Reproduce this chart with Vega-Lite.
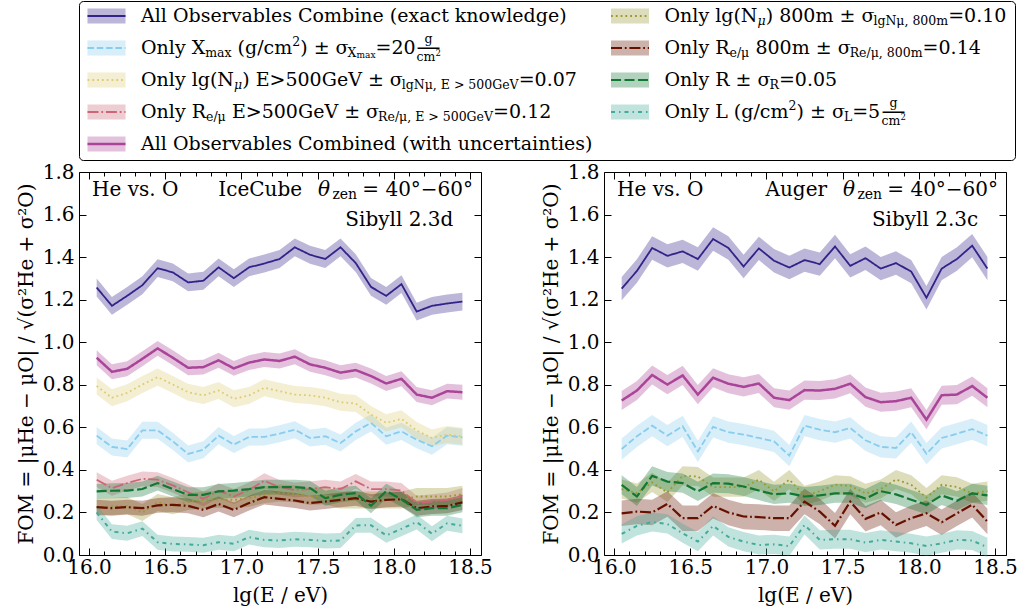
{
"$schema": "https://vega.github.io/schema/vega-lite/v6.json",
"padding": {"left": 15, "top": 0, "right": 0, "bottom": 0},
"background": "white",
"spacing": 0,
"config": {
  "font": "DejaVu Serif",
  "view": {"stroke": "#000", "strokeWidth": 1},
  "text": {"align": "left", "baseline": "middle", "font": "DejaVu Serif", "fontSize": 19, "color": "#000"},
  "axis": {"labelFont": "DejaVu Serif", "labelFontSize": 20, "labelColor": "#000", "titleFont": "DejaVu Serif", "titleFontSize": 20, "titleFontWeight": "normal", "titleColor": "#000", "tickColor": "#000", "tickWidth": 1, "domain": false, "grid": false, "labelOverlap": false, "labelFlush": false}
},
"datasets": {
"leg": [
{"s":"exact","c":0,"r":0},
{"s":"xmax","c":0,"r":1},
{"s":"lgnmu500","c":0,"r":2},
{"s":"remu500","c":0,"r":3},
{"s":"combined","c":0,"r":4},
{"s":"lgnmu800","c":1,"r":0},
{"s":"remu800","c":1,"r":1},
{"s":"r","c":1,"r":2},
{"s":"l","c":1,"r":3}
],
"fom": [
{"p":"L","s":"exact","x":16.05,"y":1.257,"e":0.042},{"p":"L","s":"exact","x":16.15,"y":1.171,"e":0.042},{"p":"L","s":"exact","x":16.25,"y":1.218,"e":0.042},{"p":"L","s":"exact","x":16.35,"y":1.268,"e":0.042},{"p":"L","s":"exact","x":16.45,"y":1.348,"e":0.042},{"p":"L","s":"exact","x":16.55,"y":1.328,"e":0.042},{"p":"L","s":"exact","x":16.65,"y":1.281,"e":0.042},{"p":"L","s":"exact","x":16.75,"y":1.289,"e":0.042},{"p":"L","s":"exact","x":16.85,"y":1.352,"e":0.042},{"p":"L","s":"exact","x":16.95,"y":1.301,"e":0.042},{"p":"L","s":"exact","x":17.05,"y":1.352,"e":0.042},{"p":"L","s":"exact","x":17.15,"y":1.370,"e":0.042},{"p":"L","s":"exact","x":17.25,"y":1.391,"e":0.042},{"p":"L","s":"exact","x":17.35,"y":1.446,"e":0.042},{"p":"L","s":"exact","x":17.45,"y":1.411,"e":0.042},{"p":"L","s":"exact","x":17.55,"y":1.391,"e":0.042},{"p":"L","s":"exact","x":17.65,"y":1.446,"e":0.042},{"p":"L","s":"exact","x":17.75,"y":1.372,"e":0.042},{"p":"L","s":"exact","x":17.85,"y":1.260,"e":0.042},{"p":"L","s":"exact","x":17.95,"y":1.218,"e":0.042},{"p":"L","s":"exact","x":18.05,"y":1.273,"e":0.042},{"p":"L","s":"exact","x":18.15,"y":1.144,"e":0.042},{"p":"L","s":"exact","x":18.25,"y":1.171,"e":0.042},{"p":"L","s":"exact","x":18.35,"y":1.182,"e":0.042},{"p":"L","s":"exact","x":18.45,"y":1.191,"e":0.042},
{"p":"L","s":"xmax","x":16.05,"y":0.561,"e":0.04},{"p":"L","s":"xmax","x":16.15,"y":0.508,"e":0.04},{"p":"L","s":"xmax","x":16.25,"y":0.498,"e":0.04},{"p":"L","s":"xmax","x":16.35,"y":0.586,"e":0.04},{"p":"L","s":"xmax","x":16.45,"y":0.586,"e":0.04},{"p":"L","s":"xmax","x":16.55,"y":0.534,"e":0.04},{"p":"L","s":"xmax","x":16.65,"y":0.475,"e":0.04},{"p":"L","s":"xmax","x":16.75,"y":0.495,"e":0.04},{"p":"L","s":"xmax","x":16.85,"y":0.561,"e":0.04},{"p":"L","s":"xmax","x":16.95,"y":0.519,"e":0.04},{"p":"L","s":"xmax","x":17.05,"y":0.555,"e":0.04},{"p":"L","s":"xmax","x":17.15,"y":0.555,"e":0.04},{"p":"L","s":"xmax","x":17.25,"y":0.570,"e":0.04},{"p":"L","s":"xmax","x":17.35,"y":0.589,"e":0.04},{"p":"L","s":"xmax","x":17.45,"y":0.550,"e":0.04},{"p":"L","s":"xmax","x":17.55,"y":0.558,"e":0.04},{"p":"L","s":"xmax","x":17.65,"y":0.526,"e":0.04},{"p":"L","s":"xmax","x":17.75,"y":0.581,"e":0.04},{"p":"L","s":"xmax","x":17.85,"y":0.621,"e":0.04},{"p":"L","s":"xmax","x":17.95,"y":0.558,"e":0.04},{"p":"L","s":"xmax","x":18.05,"y":0.581,"e":0.04},{"p":"L","s":"xmax","x":18.15,"y":0.542,"e":0.04},{"p":"L","s":"xmax","x":18.25,"y":0.511,"e":0.04},{"p":"L","s":"xmax","x":18.35,"y":0.561,"e":0.04},{"p":"L","s":"xmax","x":18.45,"y":0.553,"e":0.04},
{"p":"L","s":"lgnmu500","x":16.05,"y":0.794,"e":0.04},{"p":"L","s":"lgnmu500","x":16.15,"y":0.739,"e":0.04},{"p":"L","s":"lgnmu500","x":16.25,"y":0.762,"e":0.04},{"p":"L","s":"lgnmu500","x":16.35,"y":0.801,"e":0.04},{"p":"L","s":"lgnmu500","x":16.45,"y":0.836,"e":0.04},{"p":"L","s":"lgnmu500","x":16.55,"y":0.801,"e":0.04},{"p":"L","s":"lgnmu500","x":16.65,"y":0.765,"e":0.04},{"p":"L","s":"lgnmu500","x":16.75,"y":0.750,"e":0.04},{"p":"L","s":"lgnmu500","x":16.85,"y":0.773,"e":0.04},{"p":"L","s":"lgnmu500","x":16.95,"y":0.734,"e":0.04},{"p":"L","s":"lgnmu500","x":17.05,"y":0.750,"e":0.04},{"p":"L","s":"lgnmu500","x":17.15,"y":0.786,"e":0.04},{"p":"L","s":"lgnmu500","x":17.25,"y":0.770,"e":0.04},{"p":"L","s":"lgnmu500","x":17.35,"y":0.754,"e":0.04},{"p":"L","s":"lgnmu500","x":17.45,"y":0.750,"e":0.04},{"p":"L","s":"lgnmu500","x":17.55,"y":0.739,"e":0.04},{"p":"L","s":"lgnmu500","x":17.65,"y":0.718,"e":0.04},{"p":"L","s":"lgnmu500","x":17.75,"y":0.712,"e":0.04},{"p":"L","s":"lgnmu500","x":17.85,"y":0.660,"e":0.04},{"p":"L","s":"lgnmu500","x":17.95,"y":0.621,"e":0.04},{"p":"L","s":"lgnmu500","x":18.05,"y":0.640,"e":0.04},{"p":"L","s":"lgnmu500","x":18.15,"y":0.585,"e":0.04},{"p":"L","s":"lgnmu500","x":18.25,"y":0.550,"e":0.04},{"p":"L","s":"lgnmu500","x":18.35,"y":0.566,"e":0.04},{"p":"L","s":"lgnmu500","x":18.45,"y":0.558,"e":0.04},
{"p":"L","s":"remu500","x":16.05,"y":0.354,"e":0.035},{"p":"L","s":"remu500","x":16.15,"y":0.314,"e":0.035},{"p":"L","s":"remu500","x":16.25,"y":0.338,"e":0.035},{"p":"L","s":"remu500","x":16.35,"y":0.358,"e":0.035},{"p":"L","s":"remu500","x":16.45,"y":0.354,"e":0.035},{"p":"L","s":"remu500","x":16.55,"y":0.327,"e":0.035},{"p":"L","s":"remu500","x":16.65,"y":0.295,"e":0.035},{"p":"L","s":"remu500","x":16.75,"y":0.264,"e":0.035},{"p":"L","s":"remu500","x":16.85,"y":0.302,"e":0.035},{"p":"L","s":"remu500","x":16.95,"y":0.275,"e":0.035},{"p":"L","s":"remu500","x":17.05,"y":0.306,"e":0.035},{"p":"L","s":"remu500","x":17.15,"y":0.349,"e":0.035},{"p":"L","s":"remu500","x":17.25,"y":0.318,"e":0.035},{"p":"L","s":"remu500","x":17.35,"y":0.306,"e":0.035},{"p":"L","s":"remu500","x":17.45,"y":0.310,"e":0.035},{"p":"L","s":"remu500","x":17.55,"y":0.319,"e":0.035},{"p":"L","s":"remu500","x":17.65,"y":0.310,"e":0.035},{"p":"L","s":"remu500","x":17.75,"y":0.346,"e":0.035},{"p":"L","s":"remu500","x":17.85,"y":0.310,"e":0.035},{"p":"L","s":"remu500","x":17.95,"y":0.310,"e":0.035},{"p":"L","s":"remu500","x":18.05,"y":0.303,"e":0.035},{"p":"L","s":"remu500","x":18.15,"y":0.244,"e":0.035},{"p":"L","s":"remu500","x":18.25,"y":0.251,"e":0.035},{"p":"L","s":"remu500","x":18.35,"y":0.259,"e":0.035},{"p":"L","s":"remu500","x":18.45,"y":0.280,"e":0.035},
{"p":"L","s":"combined","x":16.05,"y":0.927,"e":0.035},{"p":"L","s":"combined","x":16.15,"y":0.861,"e":0.035},{"p":"L","s":"combined","x":16.25,"y":0.875,"e":0.035},{"p":"L","s":"combined","x":16.35,"y":0.922,"e":0.035},{"p":"L","s":"combined","x":16.45,"y":0.971,"e":0.035},{"p":"L","s":"combined","x":16.55,"y":0.927,"e":0.035},{"p":"L","s":"combined","x":16.65,"y":0.880,"e":0.035},{"p":"L","s":"combined","x":16.75,"y":0.883,"e":0.035},{"p":"L","s":"combined","x":16.85,"y":0.915,"e":0.035},{"p":"L","s":"combined","x":16.95,"y":0.877,"e":0.035},{"p":"L","s":"combined","x":17.05,"y":0.904,"e":0.035},{"p":"L","s":"combined","x":17.15,"y":0.919,"e":0.035},{"p":"L","s":"combined","x":17.25,"y":0.912,"e":0.035},{"p":"L","s":"combined","x":17.35,"y":0.932,"e":0.035},{"p":"L","s":"combined","x":17.45,"y":0.896,"e":0.035},{"p":"L","s":"combined","x":17.55,"y":0.880,"e":0.035},{"p":"L","s":"combined","x":17.65,"y":0.857,"e":0.035},{"p":"L","s":"combined","x":17.75,"y":0.869,"e":0.035},{"p":"L","s":"combined","x":17.85,"y":0.841,"e":0.035},{"p":"L","s":"combined","x":17.95,"y":0.806,"e":0.035},{"p":"L","s":"combined","x":18.05,"y":0.828,"e":0.035},{"p":"L","s":"combined","x":18.15,"y":0.754,"e":0.035},{"p":"L","s":"combined","x":18.25,"y":0.739,"e":0.035},{"p":"L","s":"combined","x":18.35,"y":0.770,"e":0.035},{"p":"L","s":"combined","x":18.45,"y":0.765,"e":0.035},
{"p":"L","s":"lgnmu800","x":16.05,"y":0.225,"e":0.04},{"p":"L","s":"lgnmu800","x":16.15,"y":0.228,"e":0.04},{"p":"L","s":"lgnmu800","x":16.25,"y":0.231,"e":0.04},{"p":"L","s":"lgnmu800","x":16.35,"y":0.200,"e":0.04},{"p":"L","s":"lgnmu800","x":16.45,"y":0.247,"e":0.04},{"p":"L","s":"lgnmu800","x":16.55,"y":0.231,"e":0.04},{"p":"L","s":"lgnmu800","x":16.65,"y":0.251,"e":0.04},{"p":"L","s":"lgnmu800","x":16.75,"y":0.259,"e":0.04},{"p":"L","s":"lgnmu800","x":16.85,"y":0.262,"e":0.04},{"p":"L","s":"lgnmu800","x":16.95,"y":0.259,"e":0.04},{"p":"L","s":"lgnmu800","x":17.05,"y":0.267,"e":0.04},{"p":"L","s":"lgnmu800","x":17.15,"y":0.283,"e":0.04},{"p":"L","s":"lgnmu800","x":17.25,"y":0.291,"e":0.04},{"p":"L","s":"lgnmu800","x":17.35,"y":0.288,"e":0.04},{"p":"L","s":"lgnmu800","x":17.45,"y":0.275,"e":0.04},{"p":"L","s":"lgnmu800","x":17.55,"y":0.278,"e":0.04},{"p":"L","s":"lgnmu800","x":17.65,"y":0.259,"e":0.04},{"p":"L","s":"lgnmu800","x":17.75,"y":0.259,"e":0.04},{"p":"L","s":"lgnmu800","x":17.85,"y":0.259,"e":0.04},{"p":"L","s":"lgnmu800","x":17.95,"y":0.259,"e":0.04},{"p":"L","s":"lgnmu800","x":18.05,"y":0.259,"e":0.04},{"p":"L","s":"lgnmu800","x":18.15,"y":0.275,"e":0.04},{"p":"L","s":"lgnmu800","x":18.25,"y":0.275,"e":0.04},{"p":"L","s":"lgnmu800","x":18.35,"y":0.275,"e":0.04},{"p":"L","s":"lgnmu800","x":18.45,"y":0.286,"e":0.04},
{"p":"L","s":"remu800","x":16.05,"y":0.225,"e":0.035},{"p":"L","s":"remu800","x":16.15,"y":0.220,"e":0.035},{"p":"L","s":"remu800","x":16.25,"y":0.225,"e":0.035},{"p":"L","s":"remu800","x":16.35,"y":0.220,"e":0.035},{"p":"L","s":"remu800","x":16.45,"y":0.233,"e":0.035},{"p":"L","s":"remu800","x":16.55,"y":0.236,"e":0.035},{"p":"L","s":"remu800","x":16.65,"y":0.231,"e":0.035},{"p":"L","s":"remu800","x":16.75,"y":0.212,"e":0.035},{"p":"L","s":"remu800","x":16.85,"y":0.240,"e":0.035},{"p":"L","s":"remu800","x":16.95,"y":0.212,"e":0.035},{"p":"L","s":"remu800","x":17.05,"y":0.244,"e":0.035},{"p":"L","s":"remu800","x":17.15,"y":0.272,"e":0.035},{"p":"L","s":"remu800","x":17.25,"y":0.264,"e":0.035},{"p":"L","s":"remu800","x":17.35,"y":0.256,"e":0.035},{"p":"L","s":"remu800","x":17.45,"y":0.244,"e":0.035},{"p":"L","s":"remu800","x":17.55,"y":0.251,"e":0.035},{"p":"L","s":"remu800","x":17.65,"y":0.259,"e":0.035},{"p":"L","s":"remu800","x":17.75,"y":0.267,"e":0.035},{"p":"L","s":"remu800","x":17.85,"y":0.251,"e":0.035},{"p":"L","s":"remu800","x":17.95,"y":0.259,"e":0.035},{"p":"L","s":"remu800","x":18.05,"y":0.262,"e":0.035},{"p":"L","s":"remu800","x":18.15,"y":0.220,"e":0.035},{"p":"L","s":"remu800","x":18.25,"y":0.228,"e":0.035},{"p":"L","s":"remu800","x":18.35,"y":0.231,"e":0.035},{"p":"L","s":"remu800","x":18.45,"y":0.247,"e":0.035},
{"p":"L","s":"r","x":16.05,"y":0.299,"e":0.035},{"p":"L","s":"r","x":16.15,"y":0.302,"e":0.035},{"p":"L","s":"r","x":16.25,"y":0.303,"e":0.035},{"p":"L","s":"r","x":16.35,"y":0.310,"e":0.035},{"p":"L","s":"r","x":16.45,"y":0.338,"e":0.035},{"p":"L","s":"r","x":16.55,"y":0.310,"e":0.035},{"p":"L","s":"r","x":16.65,"y":0.283,"e":0.035},{"p":"L","s":"r","x":16.75,"y":0.283,"e":0.035},{"p":"L","s":"r","x":16.85,"y":0.299,"e":0.035},{"p":"L","s":"r","x":16.95,"y":0.303,"e":0.035},{"p":"L","s":"r","x":17.05,"y":0.310,"e":0.035},{"p":"L","s":"r","x":17.15,"y":0.319,"e":0.035},{"p":"L","s":"r","x":17.25,"y":0.319,"e":0.035},{"p":"L","s":"r","x":17.35,"y":0.319,"e":0.035},{"p":"L","s":"r","x":17.45,"y":0.314,"e":0.035},{"p":"L","s":"r","x":17.55,"y":0.267,"e":0.035},{"p":"L","s":"r","x":17.65,"y":0.283,"e":0.035},{"p":"L","s":"r","x":17.75,"y":0.291,"e":0.035},{"p":"L","s":"r","x":17.85,"y":0.231,"e":0.035},{"p":"L","s":"r","x":17.95,"y":0.300,"e":0.035},{"p":"L","s":"r","x":18.05,"y":0.262,"e":0.035},{"p":"L","s":"r","x":18.15,"y":0.212,"e":0.035},{"p":"L","s":"r","x":18.25,"y":0.220,"e":0.035},{"p":"L","s":"r","x":18.35,"y":0.220,"e":0.035},{"p":"L","s":"r","x":18.45,"y":0.236,"e":0.035},
{"p":"L","s":"l","x":16.05,"y":0.200,"e":0.035},{"p":"L","s":"l","x":16.15,"y":0.110,"e":0.035},{"p":"L","s":"l","x":16.25,"y":0.102,"e":0.035},{"p":"L","s":"l","x":16.35,"y":0.124,"e":0.035},{"p":"L","s":"l","x":16.45,"y":0.060,"e":0.035},{"p":"L","s":"l","x":16.55,"y":0.052,"e":0.035},{"p":"L","s":"l","x":16.65,"y":0.050,"e":0.035},{"p":"L","s":"l","x":16.75,"y":0.046,"e":0.035},{"p":"L","s":"l","x":16.85,"y":0.060,"e":0.035},{"p":"L","s":"l","x":16.95,"y":0.053,"e":0.035},{"p":"L","s":"l","x":17.05,"y":0.084,"e":0.035},{"p":"L","s":"l","x":17.15,"y":0.071,"e":0.035},{"p":"L","s":"l","x":17.25,"y":0.068,"e":0.035},{"p":"L","s":"l","x":17.35,"y":0.074,"e":0.035},{"p":"L","s":"l","x":17.45,"y":0.071,"e":0.035},{"p":"L","s":"l","x":17.55,"y":0.066,"e":0.035},{"p":"L","s":"l","x":17.65,"y":0.068,"e":0.035},{"p":"L","s":"l","x":17.75,"y":0.139,"e":0.035},{"p":"L","s":"l","x":17.85,"y":0.140,"e":0.035},{"p":"L","s":"l","x":17.95,"y":0.092,"e":0.035},{"p":"L","s":"l","x":18.05,"y":0.123,"e":0.035},{"p":"L","s":"l","x":18.15,"y":0.155,"e":0.035},{"p":"L","s":"l","x":18.25,"y":0.100,"e":0.035},{"p":"L","s":"l","x":18.35,"y":0.149,"e":0.035},{"p":"L","s":"l","x":18.45,"y":0.137,"e":0.035},
{"p":"R","s":"exact","x":16.05,"y":1.252,"e":0.055},{"p":"R","s":"exact","x":16.15,"y":1.335,"e":0.055},{"p":"R","s":"exact","x":16.25,"y":1.443,"e":0.055},{"p":"R","s":"exact","x":16.35,"y":1.406,"e":0.055},{"p":"R","s":"exact","x":16.45,"y":1.427,"e":0.055},{"p":"R","s":"exact","x":16.55,"y":1.391,"e":0.055},{"p":"R","s":"exact","x":16.65,"y":1.485,"e":0.055},{"p":"R","s":"exact","x":16.75,"y":1.443,"e":0.055},{"p":"R","s":"exact","x":16.85,"y":1.356,"e":0.055},{"p":"R","s":"exact","x":16.95,"y":1.441,"e":0.055},{"p":"R","s":"exact","x":17.05,"y":1.383,"e":0.055},{"p":"R","s":"exact","x":17.15,"y":1.351,"e":0.055},{"p":"R","s":"exact","x":17.25,"y":1.386,"e":0.055},{"p":"R","s":"exact","x":17.35,"y":1.367,"e":0.055},{"p":"R","s":"exact","x":17.45,"y":1.450,"e":0.055},{"p":"R","s":"exact","x":17.55,"y":1.359,"e":0.055},{"p":"R","s":"exact","x":17.65,"y":1.395,"e":0.055},{"p":"R","s":"exact","x":17.75,"y":1.346,"e":0.055},{"p":"R","s":"exact","x":17.85,"y":1.372,"e":0.055},{"p":"R","s":"exact","x":17.95,"y":1.332,"e":0.055},{"p":"R","s":"exact","x":18.05,"y":1.209,"e":0.055},{"p":"R","s":"exact","x":18.15,"y":1.346,"e":0.055},{"p":"R","s":"exact","x":18.25,"y":1.391,"e":0.055},{"p":"R","s":"exact","x":18.35,"y":1.454,"e":0.055},{"p":"R","s":"exact","x":18.45,"y":1.346,"e":0.055},
{"p":"R","s":"xmax","x":16.05,"y":0.498,"e":0.05},{"p":"R","s":"xmax","x":16.15,"y":0.558,"e":0.05},{"p":"R","s":"xmax","x":16.25,"y":0.608,"e":0.05},{"p":"R","s":"xmax","x":16.35,"y":0.561,"e":0.05},{"p":"R","s":"xmax","x":16.45,"y":0.605,"e":0.05},{"p":"R","s":"xmax","x":16.55,"y":0.487,"e":0.05},{"p":"R","s":"xmax","x":16.65,"y":0.602,"e":0.05},{"p":"R","s":"xmax","x":16.75,"y":0.577,"e":0.05},{"p":"R","s":"xmax","x":16.85,"y":0.566,"e":0.05},{"p":"R","s":"xmax","x":16.95,"y":0.550,"e":0.05},{"p":"R","s":"xmax","x":17.05,"y":0.534,"e":0.05},{"p":"R","s":"xmax","x":17.15,"y":0.467,"e":0.05},{"p":"R","s":"xmax","x":17.25,"y":0.608,"e":0.05},{"p":"R","s":"xmax","x":17.35,"y":0.589,"e":0.05},{"p":"R","s":"xmax","x":17.45,"y":0.577,"e":0.05},{"p":"R","s":"xmax","x":17.55,"y":0.597,"e":0.05},{"p":"R","s":"xmax","x":17.65,"y":0.539,"e":0.05},{"p":"R","s":"xmax","x":17.75,"y":0.508,"e":0.05},{"p":"R","s":"xmax","x":17.85,"y":0.503,"e":0.05},{"p":"R","s":"xmax","x":17.95,"y":0.577,"e":0.05},{"p":"R","s":"xmax","x":18.05,"y":0.476,"e":0.05},{"p":"R","s":"xmax","x":18.15,"y":0.550,"e":0.05},{"p":"R","s":"xmax","x":18.25,"y":0.570,"e":0.05},{"p":"R","s":"xmax","x":18.35,"y":0.592,"e":0.05},{"p":"R","s":"xmax","x":18.45,"y":0.561,"e":0.05},
{"p":"R","s":"combined","x":16.05,"y":0.726,"e":0.045},{"p":"R","s":"combined","x":16.15,"y":0.773,"e":0.045},{"p":"R","s":"combined","x":16.25,"y":0.846,"e":0.045},{"p":"R","s":"combined","x":16.35,"y":0.801,"e":0.045},{"p":"R","s":"combined","x":16.45,"y":0.844,"e":0.045},{"p":"R","s":"combined","x":16.55,"y":0.754,"e":0.045},{"p":"R","s":"combined","x":16.65,"y":0.833,"e":0.045},{"p":"R","s":"combined","x":16.75,"y":0.805,"e":0.045},{"p":"R","s":"combined","x":16.85,"y":0.790,"e":0.045},{"p":"R","s":"combined","x":16.95,"y":0.806,"e":0.045},{"p":"R","s":"combined","x":17.05,"y":0.739,"e":0.045},{"p":"R","s":"combined","x":17.15,"y":0.728,"e":0.045},{"p":"R","s":"combined","x":17.25,"y":0.775,"e":0.045},{"p":"R","s":"combined","x":17.35,"y":0.773,"e":0.045},{"p":"R","s":"combined","x":17.45,"y":0.781,"e":0.045},{"p":"R","s":"combined","x":17.55,"y":0.805,"e":0.045},{"p":"R","s":"combined","x":17.65,"y":0.742,"e":0.045},{"p":"R","s":"combined","x":17.75,"y":0.718,"e":0.045},{"p":"R","s":"combined","x":17.85,"y":0.723,"e":0.045},{"p":"R","s":"combined","x":17.95,"y":0.739,"e":0.045},{"p":"R","s":"combined","x":18.05,"y":0.636,"e":0.045},{"p":"R","s":"combined","x":18.15,"y":0.751,"e":0.045},{"p":"R","s":"combined","x":18.25,"y":0.754,"e":0.045},{"p":"R","s":"combined","x":18.35,"y":0.794,"e":0.045},{"p":"R","s":"combined","x":18.45,"y":0.739,"e":0.045},
{"p":"R","s":"lgnmu800","x":16.05,"y":0.310,"e":0.045},{"p":"R","s":"lgnmu800","x":16.15,"y":0.291,"e":0.045},{"p":"R","s":"lgnmu800","x":16.25,"y":0.341,"e":0.045},{"p":"R","s":"lgnmu800","x":16.35,"y":0.294,"e":0.045},{"p":"R","s":"lgnmu800","x":16.45,"y":0.372,"e":0.045},{"p":"R","s":"lgnmu800","x":16.55,"y":0.369,"e":0.045},{"p":"R","s":"lgnmu800","x":16.65,"y":0.319,"e":0.045},{"p":"R","s":"lgnmu800","x":16.75,"y":0.319,"e":0.045},{"p":"R","s":"lgnmu800","x":16.85,"y":0.319,"e":0.045},{"p":"R","s":"lgnmu800","x":16.95,"y":0.354,"e":0.045},{"p":"R","s":"lgnmu800","x":17.05,"y":0.299,"e":0.045},{"p":"R","s":"lgnmu800","x":17.15,"y":0.354,"e":0.045},{"p":"R","s":"lgnmu800","x":17.25,"y":0.280,"e":0.045},{"p":"R","s":"lgnmu800","x":17.35,"y":0.300,"e":0.045},{"p":"R","s":"lgnmu800","x":17.45,"y":0.330,"e":0.045},{"p":"R","s":"lgnmu800","x":17.55,"y":0.325,"e":0.045},{"p":"R","s":"lgnmu800","x":17.65,"y":0.290,"e":0.045},{"p":"R","s":"lgnmu800","x":17.75,"y":0.310,"e":0.045},{"p":"R","s":"lgnmu800","x":17.85,"y":0.355,"e":0.045},{"p":"R","s":"lgnmu800","x":17.95,"y":0.330,"e":0.045},{"p":"R","s":"lgnmu800","x":18.05,"y":0.270,"e":0.045},{"p":"R","s":"lgnmu800","x":18.15,"y":0.330,"e":0.045},{"p":"R","s":"lgnmu800","x":18.25,"y":0.320,"e":0.045},{"p":"R","s":"lgnmu800","x":18.35,"y":0.290,"e":0.045},{"p":"R","s":"lgnmu800","x":18.45,"y":0.300,"e":0.045},
{"p":"R","s":"remu800","x":16.05,"y":0.196,"e":0.06},{"p":"R","s":"remu800","x":16.15,"y":0.204,"e":0.06},{"p":"R","s":"remu800","x":16.25,"y":0.200,"e":0.06},{"p":"R","s":"remu800","x":16.35,"y":0.240,"e":0.06},{"p":"R","s":"remu800","x":16.45,"y":0.173,"e":0.06},{"p":"R","s":"remu800","x":16.55,"y":0.173,"e":0.06},{"p":"R","s":"remu800","x":16.65,"y":0.231,"e":0.06},{"p":"R","s":"remu800","x":16.75,"y":0.200,"e":0.06},{"p":"R","s":"remu800","x":16.85,"y":0.181,"e":0.06},{"p":"R","s":"remu800","x":16.95,"y":0.178,"e":0.06},{"p":"R","s":"remu800","x":17.05,"y":0.173,"e":0.06},{"p":"R","s":"remu800","x":17.15,"y":0.173,"e":0.06},{"p":"R","s":"remu800","x":17.25,"y":0.251,"e":0.06},{"p":"R","s":"remu800","x":17.35,"y":0.204,"e":0.06},{"p":"R","s":"remu800","x":17.45,"y":0.137,"e":0.06},{"p":"R","s":"remu800","x":17.55,"y":0.251,"e":0.06},{"p":"R","s":"remu800","x":17.65,"y":0.170,"e":0.06},{"p":"R","s":"remu800","x":17.75,"y":0.200,"e":0.06},{"p":"R","s":"remu800","x":17.85,"y":0.141,"e":0.06},{"p":"R","s":"remu800","x":17.95,"y":0.173,"e":0.06},{"p":"R","s":"remu800","x":18.05,"y":0.196,"e":0.06},{"p":"R","s":"remu800","x":18.15,"y":0.154,"e":0.06},{"p":"R","s":"remu800","x":18.25,"y":0.196,"e":0.06},{"p":"R","s":"remu800","x":18.35,"y":0.236,"e":0.06},{"p":"R","s":"remu800","x":18.45,"y":0.157,"e":0.06},
{"p":"R","s":"r","x":16.05,"y":0.330,"e":0.045},{"p":"R","s":"r","x":16.15,"y":0.275,"e":0.045},{"p":"R","s":"r","x":16.25,"y":0.372,"e":0.045},{"p":"R","s":"r","x":16.35,"y":0.345,"e":0.045},{"p":"R","s":"r","x":16.45,"y":0.338,"e":0.045},{"p":"R","s":"r","x":16.55,"y":0.299,"e":0.045},{"p":"R","s":"r","x":16.65,"y":0.338,"e":0.045},{"p":"R","s":"r","x":16.75,"y":0.335,"e":0.045},{"p":"R","s":"r","x":16.85,"y":0.322,"e":0.045},{"p":"R","s":"r","x":16.95,"y":0.303,"e":0.045},{"p":"R","s":"r","x":17.05,"y":0.285,"e":0.045},{"p":"R","s":"r","x":17.15,"y":0.290,"e":0.045},{"p":"R","s":"r","x":17.25,"y":0.275,"e":0.045},{"p":"R","s":"r","x":17.35,"y":0.280,"e":0.045},{"p":"R","s":"r","x":17.45,"y":0.290,"e":0.045},{"p":"R","s":"r","x":17.55,"y":0.290,"e":0.045},{"p":"R","s":"r","x":17.65,"y":0.265,"e":0.045},{"p":"R","s":"r","x":17.75,"y":0.300,"e":0.045},{"p":"R","s":"r","x":17.85,"y":0.285,"e":0.045},{"p":"R","s":"r","x":17.95,"y":0.260,"e":0.045},{"p":"R","s":"r","x":18.05,"y":0.236,"e":0.045},{"p":"R","s":"r","x":18.15,"y":0.280,"e":0.045},{"p":"R","s":"r","x":18.25,"y":0.255,"e":0.045},{"p":"R","s":"r","x":18.35,"y":0.290,"e":0.045},{"p":"R","s":"r","x":18.45,"y":0.280,"e":0.045},
{"p":"R","s":"l","x":16.05,"y":0.099,"e":0.045},{"p":"R","s":"l","x":16.15,"y":0.137,"e":0.045},{"p":"R","s":"l","x":16.25,"y":0.155,"e":0.045},{"p":"R","s":"l","x":16.35,"y":0.146,"e":0.045},{"p":"R","s":"l","x":16.45,"y":0.102,"e":0.045},{"p":"R","s":"l","x":16.55,"y":0.063,"e":0.045},{"p":"R","s":"l","x":16.65,"y":0.137,"e":0.045},{"p":"R","s":"l","x":16.75,"y":0.085,"e":0.045},{"p":"R","s":"l","x":16.85,"y":0.063,"e":0.045},{"p":"R","s":"l","x":16.95,"y":0.047,"e":0.045},{"p":"R","s":"l","x":17.05,"y":0.050,"e":0.045},{"p":"R","s":"l","x":17.15,"y":0.042,"e":0.045},{"p":"R","s":"l","x":17.25,"y":0.141,"e":0.045},{"p":"R","s":"l","x":17.35,"y":0.071,"e":0.045},{"p":"R","s":"l","x":17.45,"y":0.074,"e":0.045},{"p":"R","s":"l","x":17.55,"y":0.074,"e":0.045},{"p":"R","s":"l","x":17.65,"y":0.058,"e":0.045},{"p":"R","s":"l","x":17.75,"y":0.071,"e":0.045},{"p":"R","s":"l","x":17.85,"y":0.063,"e":0.045},{"p":"R","s":"l","x":17.95,"y":0.055,"e":0.045},{"p":"R","s":"l","x":18.05,"y":0.042,"e":0.045},{"p":"R","s":"l","x":18.15,"y":0.055,"e":0.045},{"p":"R","s":"l","x":18.25,"y":0.071,"e":0.045},{"p":"R","s":"l","x":18.35,"y":0.068,"e":0.045},{"p":"R","s":"l","x":18.45,"y":0.036,"e":0.045}
]
},
"vconcat": [
{
  "width": 936, "height": 159,
  "view": {"stroke": "#000", "strokeWidth": 1, "cornerRadius": 4},
  "data": {"name": "leg"},
  "encoding": {
    "x": {"field": "c", "type": "quantitative", "scale": {"domain": [-0.05253, 1.73544], "nice": false, "zero": false}, "axis": null},
    "y": {"field": "r", "type": "quantitative", "scale": {"domain": [-0.46875, 4.5], "nice": false, "zero": false, "reverse": true}, "axis": null}
  },
  "layer": [
    {"mark": {"type": "point", "shape": "M-1,-0.395H1V0.395H-1Z", "filled": true, "size": 1444, "opacity": 0.33, "strokeWidth": 0},
     "encoding": {"color": {"field": "s", "type": "nominal", "legend": null, "scale": {"domain": ["exact","xmax","lgnmu500","remu500","combined","lgnmu800","remu800","r","l"], "range": ["#332288","#88CCEE","#DDCC77","#CC6677","#AA4499","#999933","#661100","#117733","#44AA99"]}}}},
    {"mark": {"type": "point", "shape": "M-1,0H1", "filled": false, "size": 1444, "opacity": 1},
     "encoding": {
       "color": {"field": "s", "type": "nominal", "legend": null, "scale": {"domain": ["exact","xmax","lgnmu500","remu500","combined","lgnmu800","remu800","r","l"], "range": ["#332288","#88CCEE","#DDCC77","#CC6677","#AA4499","#999933","#661100","#117733","#44AA99"]}},
       "strokeDash": {"field": "s", "type": "nominal", "legend": null, "scale": {"domain": ["exact","xmax","lgnmu500","remu500","combined","lgnmu800","remu800","r","l"], "range": [[1,0],[6.5,2.8],[1.8,3],[11,2.8,1.8,2.8],[1,0],[1.8,3],[11,2.8,1.8,2.8],[10,3.5],[4,4,1.5,4]]}},
       "strokeWidth": {"field": "s", "type": "nominal", "legend": null, "scale": {"type": "ordinal", "domain": ["exact","xmax","lgnmu500","remu500","combined","lgnmu800","remu800","r","l"], "range": [1.8,1.8,1.8,1.8,2.5,1.8,2.2,2.2,2]}}
     }},
    {"transform": [{"filter": "datum.s == 'exact'"}], "mark": {"type": "text", "dx": 34.5, "text": "All Observables Combine (exact knowledge)"}},
    {"transform": [{"filter": "datum.s == 'combined'"}], "mark": {"type": "text", "dx": 34.5, "text": "All Observables Combined (with uncertainties)"}},
    {"transform": [{"filter": "datum.s == 'xmax'"}], "mark": {"type": "text", "dx": 34.5, "text": "Only X"}},
    {"transform": [{"filter": "datum.s == 'xmax'"}], "mark": {"type": "text", "dx": 98.7, "dy": 5, "fontSize": 12.5, "text": "max"}},
    {"transform": [{"filter": "datum.s == 'xmax'"}], "mark": {"type": "text", "dx": 131.1, "text": "(g/cm"}},
    {"transform": [{"filter": "datum.s == 'xmax'"}], "mark": {"type": "text", "dx": 185.8, "dy": -6, "fontSize": 12.5, "text": "2"}},
    {"transform": [{"filter": "datum.s == 'xmax'"}], "mark": {"type": "text", "dx": 193.7, "text": ") ± σ"}},
    {"transform": [{"filter": "datum.s == 'xmax'"}], "mark": {"type": "text", "dx": 241.1, "dy": 5, "fontSize": 12.5, "text": "X"}},
    {"transform": [{"filter": "datum.s == 'xmax'"}], "mark": {"type": "text", "dx": 250.0, "dy": 7, "fontSize": 9, "text": "max"}},
    {"transform": [{"filter": "datum.s == 'xmax'"}], "mark": {"type": "text", "dx": 269.0, "text": "=20"}},
    {"transform": [{"filter": "datum.s == 'xmax'"}], "mark": {"type": "text", "align": "center", "dx": 322, "dy": -9, "fontSize": 12.5, "text": "g"}},
    {"transform": [{"filter": "datum.s == 'xmax'"}], "mark": {"type": "text", "align": "center", "dx": 322, "dy": 0, "fontSize": 24, "text": "—"}},
    {"transform": [{"filter": "datum.s == 'xmax'"}], "mark": {"type": "text", "dx": 310, "dy": 9, "fontSize": 12.5, "text": "cm"}},
    {"transform": [{"filter": "datum.s == 'xmax'"}], "mark": {"type": "text", "dx": 328.9, "dy": 5, "fontSize": 8.5, "text": "2"}},
    {"transform": [{"filter": "datum.s == 'lgnmu500'"}], "mark": {"type": "text", "dx": 34.5, "text": "Only lg(N"}},
    {"transform": [{"filter": "datum.s == 'lgnmu500'"}], "mark": {"type": "text", "dx": 127.4, "dy": 5, "fontSize": 12.5, "fontStyle": "italic", "text": "μ"}},
    {"transform": [{"filter": "datum.s == 'lgnmu500'"}], "mark": {"type": "text", "dx": 135.7, "text": ") E>500GeV ± σ"}},
    {"transform": [{"filter": "datum.s == 'lgnmu500'"}], "mark": {"type": "text", "dx": 295.3, "dy": 5, "fontSize": 12.5, "text": "lgNμ, E > 500GeV"}},
    {"transform": [{"filter": "datum.s == 'lgnmu500'"}], "mark": {"type": "text", "dx": 412.2, "text": "=0.07"}},
    {"transform": [{"filter": "datum.s == 'remu500'"}], "mark": {"type": "text", "dx": 34.5, "text": "Only R"}},
    {"transform": [{"filter": "datum.s == 'remu500'"}], "mark": {"type": "text", "dx": 99.5, "dy": 5, "fontSize": 12.5, "text": "e/μ"}},
    {"transform": [{"filter": "datum.s == 'remu500'"}], "mark": {"type": "text", "dx": 125.4, "text": "E>500GeV ± σ"}},
    {"transform": [{"filter": "datum.s == 'remu500'"}], "mark": {"type": "text", "dx": 271.6, "dy": 5, "fontSize": 12.5, "text": "Re/μ, E > 500GeV"}},
    {"transform": [{"filter": "datum.s == 'remu500'"}], "mark": {"type": "text", "dx": 386.6, "text": "=0.12"}},
    {"transform": [{"filter": "datum.s == 'lgnmu800'"}], "mark": {"type": "text", "dx": 34.5, "text": "Only lg(N"}},
    {"transform": [{"filter": "datum.s == 'lgnmu800'"}], "mark": {"type": "text", "dx": 127.4, "dy": 5, "fontSize": 12.5, "fontStyle": "italic", "text": "μ"}},
    {"transform": [{"filter": "datum.s == 'lgnmu800'"}], "mark": {"type": "text", "dx": 135.7, "text": ") 800m ± σ"}},
    {"transform": [{"filter": "datum.s == 'lgnmu800'"}], "mark": {"type": "text", "dx": 243.4, "dy": 5, "fontSize": 12.5, "text": "lgNμ, 800m"}},
    {"transform": [{"filter": "datum.s == 'lgnmu800'"}], "mark": {"type": "text", "dx": 318.2, "text": "=0.10"}},
    {"transform": [{"filter": "datum.s == 'remu800'"}], "mark": {"type": "text", "dx": 34.5, "text": "Only R"}},
    {"transform": [{"filter": "datum.s == 'remu800'"}], "mark": {"type": "text", "dx": 99.5, "dy": 5, "fontSize": 12.5, "text": "e/μ"}},
    {"transform": [{"filter": "datum.s == 'remu800'"}], "mark": {"type": "text", "dx": 125.4, "text": "800m ± σ"}},
    {"transform": [{"filter": "datum.s == 'remu800'"}], "mark": {"type": "text", "dx": 219.7, "dy": 5, "fontSize": 12.5, "text": "Re/μ, 800m"}},
    {"transform": [{"filter": "datum.s == 'remu800'"}], "mark": {"type": "text", "dx": 292.6, "text": "=0.14"}},
    {"transform": [{"filter": "datum.s == 'r'"}], "mark": {"type": "text", "dx": 34.5, "text": "Only R ± σ"}},
    {"transform": [{"filter": "datum.s == 'r'"}], "mark": {"type": "text", "dx": 139.5, "dy": 5, "fontSize": 12.5, "text": "R"}},
    {"transform": [{"filter": "datum.s == 'r'"}], "mark": {"type": "text", "dx": 148.9, "text": "=0.05"}},
    {"transform": [{"filter": "datum.s == 'l'"}], "mark": {"type": "text", "dx": 34.5, "text": "Only L (g/cm"}},
    {"transform": [{"filter": "datum.s == 'l'"}], "mark": {"type": "text", "dx": 158.5, "dy": -6, "fontSize": 12.5, "text": "2"}},
    {"transform": [{"filter": "datum.s == 'l'"}], "mark": {"type": "text", "dx": 166.5, "text": ") ± σ"}},
    {"transform": [{"filter": "datum.s == 'l'"}], "mark": {"type": "text", "dx": 213.9, "dy": 5, "fontSize": 12.5, "text": "L"}},
    {"transform": [{"filter": "datum.s == 'l'"}], "mark": {"type": "text", "dx": 222.2, "text": "=5"}},
    {"transform": [{"filter": "datum.s == 'l'"}], "mark": {"type": "text", "align": "center", "dx": 263.5, "dy": -9, "fontSize": 12.5, "text": "g"}},
    {"transform": [{"filter": "datum.s == 'l'"}], "mark": {"type": "text", "align": "center", "dx": 263.5, "dy": 0, "fontSize": 24, "text": "—"}},
    {"transform": [{"filter": "datum.s == 'l'"}], "mark": {"type": "text", "dx": 251.5, "dy": 9, "fontSize": 12.5, "text": "cm"}},
    {"transform": [{"filter": "datum.s == 'l'"}], "mark": {"type": "text", "dx": 270.4, "dy": 5, "fontSize": 8.5, "text": "2"}}
  ]
},
{
  "spacing": 47,
  "hconcat": [
  {
    "width": 402, "height": 383,
    "data": {"name": "fom"},
    "transform": [{"filter": "datum.p == 'L'"}],
    "layer": [
      {"mark": {"type": "errorband", "band": {"opacity": 0.33}},
       "encoding": {
         "x": {"field": "x", "type": "quantitative", "scale": {"domain": [15.934, 18.572], "nice": false, "zero": false},
               "axis": {"orient": "bottom", "values": [16,16.1,16.2,16.3,16.4,16.5,16.6,16.7,16.8,16.9,17,17.1,17.2,17.3,17.4,17.5,17.6,17.7,17.8,17.9,18,18.1,18.2,18.3,18.4,18.5],
                        "labelExpr": "abs(datum.value*2 - round(datum.value*2)) < 0.01 ? format(datum.value, '.1f') : ''",
                        "tickSize": {"condition": {"test": "abs(datum.value*2 - round(datum.value*2)) < 0.01", "value": -7}, "value": -4},
                        "labelPadding": 9, "title": "lg(E / eV)", "titlePadding": 5}},
         "y": {"field": "y", "type": "quantitative", "scale": {"domain": [0, 1.8], "nice": false},
               "axis": {"orient": "left", "values": [0,0.2,0.4,0.6,0.8,1,1.2,1.4,1.6,1.8], "format": ".1f", "tickSize": -7, "labelPadding": 12, "title": "FOM = |μHe − μO| / √(σ²He + σ²O)", "titlePadding": 6}},
         "yError": {"field": "e"},
         "color": {"field": "s", "type": "nominal", "legend": null, "scale": {"domain": ["exact","xmax","lgnmu500","remu500","combined","lgnmu800","remu800","r","l"], "range": ["#332288","#88CCEE","#DDCC77","#CC6677","#AA4499","#999933","#661100","#117733","#44AA99"]}}
       }},
      {"mark": {"type": "line"},
       "encoding": {
         "x": {"field": "x", "type": "quantitative",
               "axis": {"orient": "top", "values": [16,16.1,16.2,16.3,16.4,16.5,16.6,16.7,16.8,16.9,17,17.1,17.2,17.3,17.4,17.5,17.6,17.7,17.8,17.9,18,18.1,18.2,18.3,18.4,18.5], "labels": false,
                        "tickSize": {"condition": {"test": "abs(datum.value*2 - round(datum.value*2)) < 0.01", "value": -7}, "value": -4}, "title": null}},
         "y": {"field": "y", "type": "quantitative", "axis": {"orient": "right", "values": [0,0.2,0.4,0.6,0.8,1,1.2,1.4,1.6,1.8], "labels": false, "tickSize": -7, "title": null}},
         "color": {"field": "s", "type": "nominal", "legend": null, "scale": {"domain": ["exact","xmax","lgnmu500","remu500","combined","lgnmu800","remu800","r","l"], "range": ["#332288","#88CCEE","#DDCC77","#CC6677","#AA4499","#999933","#661100","#117733","#44AA99"]}},
         "strokeDash": {"field": "s", "type": "nominal", "legend": null, "scale": {"domain": ["exact","xmax","lgnmu500","remu500","combined","lgnmu800","remu800","r","l"], "range": [[1,0],[6.5,2.8],[1.8,3],[11,2.8,1.8,2.8],[1,0],[1.8,3],[11,2.8,1.8,2.8],[10,3.5],[4,4,1.5,4]]}},
         "strokeWidth": {"field": "s", "type": "nominal", "legend": null, "scale": {"type": "ordinal", "domain": ["exact","xmax","lgnmu500","remu500","combined","lgnmu800","remu800","r","l"], "range": [1.8,1.8,1.8,1.8,2.5,1.8,2.2,2.2,2]}}
       }},
      {"data": {"values": [{}]}, "mark": {"type": "text", "fontSize": 20, "text": "He vs. O"},
       "encoding": {"x": {"datum": 16.02, "type": "quantitative", "axis": null}, "y": {"datum": 1.715, "type": "quantitative", "axis": null}}},
      {"data": {"values": [{}]}, "mark": {"type": "text", "align": "right", "fontSize": 20, "text": "= 40°−60°"},
       "encoding": {"x": {"datum": 18.52, "type": "quantitative", "axis": null}, "y": {"datum": 1.715, "type": "quantitative", "axis": null}}},
      {"data": {"values": [{}]}, "mark": {"type": "text", "align": "right", "fontSize": 14, "dx": -116, "dy": 5, "text": "zen"},
       "encoding": {"x": {"datum": 18.52, "type": "quantitative", "axis": null}, "y": {"datum": 1.715, "type": "quantitative", "axis": null}}},
      {"data": {"values": [{}]}, "mark": {"type": "text", "align": "right", "fontSize": 20, "fontStyle": "italic", "dx": -143, "text": "θ"},
       "encoding": {"x": {"datum": 18.52, "type": "quantitative", "axis": null}, "y": {"datum": 1.715, "type": "quantitative", "axis": null}}},
      {"data": {"values": [{}]}, "mark": {"type": "text", "align": "right", "fontSize": 20, "dx": -171, "text": "IceCube"},
       "encoding": {"x": {"datum": 18.52, "type": "quantitative", "axis": null}, "y": {"datum": 1.715, "type": "quantitative", "axis": null}}},
      {"data": {"values": [{}]}, "mark": {"type": "text", "align": "right", "fontSize": 20, "text": "Sibyll 2.3d"},
       "encoding": {"x": {"datum": 18.39, "type": "quantitative", "axis": null}, "y": {"datum": 1.574, "type": "quantitative", "axis": null}}}
    ],
    "resolve": {"axis": {"x": "independent", "y": "independent"}}
  },
  {
    "width": 402, "height": 383,
    "data": {"name": "fom"},
    "transform": [{"filter": "datum.p == 'R'"}],
    "layer": [
      {"mark": {"type": "errorband", "band": {"opacity": 0.33}},
       "encoding": {
         "x": {"field": "x", "type": "quantitative", "scale": {"domain": [15.934, 18.572], "nice": false, "zero": false},
               "axis": {"orient": "bottom", "values": [16,16.1,16.2,16.3,16.4,16.5,16.6,16.7,16.8,16.9,17,17.1,17.2,17.3,17.4,17.5,17.6,17.7,17.8,17.9,18,18.1,18.2,18.3,18.4,18.5],
                        "labelExpr": "abs(datum.value*2 - round(datum.value*2)) < 0.01 ? format(datum.value, '.1f') : ''",
                        "tickSize": {"condition": {"test": "abs(datum.value*2 - round(datum.value*2)) < 0.01", "value": -7}, "value": -4},
                        "labelPadding": 9, "title": "lg(E / eV)", "titlePadding": 5}},
         "y": {"field": "y", "type": "quantitative", "scale": {"domain": [0, 1.8], "nice": false},
               "axis": {"orient": "left", "values": [0,0.2,0.4,0.6,0.8,1,1.2,1.4,1.6,1.8], "format": ".1f", "tickSize": -7, "labelPadding": 12, "title": "FOM = |μHe − μO| / √(σ²He + σ²O)", "titlePadding": 6}},
         "yError": {"field": "e"},
         "color": {"field": "s", "type": "nominal", "legend": null, "scale": {"domain": ["exact","xmax","lgnmu500","remu500","combined","lgnmu800","remu800","r","l"], "range": ["#332288","#88CCEE","#DDCC77","#CC6677","#AA4499","#999933","#661100","#117733","#44AA99"]}}
       }},
      {"mark": {"type": "line"},
       "encoding": {
         "x": {"field": "x", "type": "quantitative",
               "axis": {"orient": "top", "values": [16,16.1,16.2,16.3,16.4,16.5,16.6,16.7,16.8,16.9,17,17.1,17.2,17.3,17.4,17.5,17.6,17.7,17.8,17.9,18,18.1,18.2,18.3,18.4,18.5], "labels": false,
                        "tickSize": {"condition": {"test": "abs(datum.value*2 - round(datum.value*2)) < 0.01", "value": -7}, "value": -4}, "title": null}},
         "y": {"field": "y", "type": "quantitative", "axis": {"orient": "right", "values": [0,0.2,0.4,0.6,0.8,1,1.2,1.4,1.6,1.8], "labels": false, "tickSize": -7, "title": null}},
         "color": {"field": "s", "type": "nominal", "legend": null, "scale": {"domain": ["exact","xmax","lgnmu500","remu500","combined","lgnmu800","remu800","r","l"], "range": ["#332288","#88CCEE","#DDCC77","#CC6677","#AA4499","#999933","#661100","#117733","#44AA99"]}},
         "strokeDash": {"field": "s", "type": "nominal", "legend": null, "scale": {"domain": ["exact","xmax","lgnmu500","remu500","combined","lgnmu800","remu800","r","l"], "range": [[1,0],[6.5,2.8],[1.8,3],[11,2.8,1.8,2.8],[1,0],[1.8,3],[11,2.8,1.8,2.8],[10,3.5],[4,4,1.5,4]]}},
         "strokeWidth": {"field": "s", "type": "nominal", "legend": null, "scale": {"type": "ordinal", "domain": ["exact","xmax","lgnmu500","remu500","combined","lgnmu800","remu800","r","l"], "range": [1.8,1.8,1.8,1.8,2.5,1.8,2.2,2.2,2]}}
       }},
      {"data": {"values": [{}]}, "mark": {"type": "text", "fontSize": 20, "text": "He vs. O"},
       "encoding": {"x": {"datum": 16.02, "type": "quantitative", "axis": null}, "y": {"datum": 1.715, "type": "quantitative", "axis": null}}},
      {"data": {"values": [{}]}, "mark": {"type": "text", "align": "right", "fontSize": 20, "text": "= 40°−60°"},
       "encoding": {"x": {"datum": 18.52, "type": "quantitative", "axis": null}, "y": {"datum": 1.715, "type": "quantitative", "axis": null}}},
      {"data": {"values": [{}]}, "mark": {"type": "text", "align": "right", "fontSize": 14, "dx": -116, "dy": 5, "text": "zen"},
       "encoding": {"x": {"datum": 18.52, "type": "quantitative", "axis": null}, "y": {"datum": 1.715, "type": "quantitative", "axis": null}}},
      {"data": {"values": [{}]}, "mark": {"type": "text", "align": "right", "fontSize": 20, "fontStyle": "italic", "dx": -143, "text": "θ"},
       "encoding": {"x": {"datum": 18.52, "type": "quantitative", "axis": null}, "y": {"datum": 1.715, "type": "quantitative", "axis": null}}},
      {"data": {"values": [{}]}, "mark": {"type": "text", "align": "right", "fontSize": 20, "dx": -171, "text": "Auger"},
       "encoding": {"x": {"datum": 18.52, "type": "quantitative", "axis": null}, "y": {"datum": 1.715, "type": "quantitative", "axis": null}}},
      {"data": {"values": [{}]}, "mark": {"type": "text", "align": "right", "fontSize": 20, "text": "Sibyll 2.3c"},
       "encoding": {"x": {"datum": 18.39, "type": "quantitative", "axis": null}, "y": {"datum": 1.574, "type": "quantitative", "axis": null}}}
    ],
    "resolve": {"axis": {"x": "independent", "y": "independent"}}
  }
  ]
}
]
}
